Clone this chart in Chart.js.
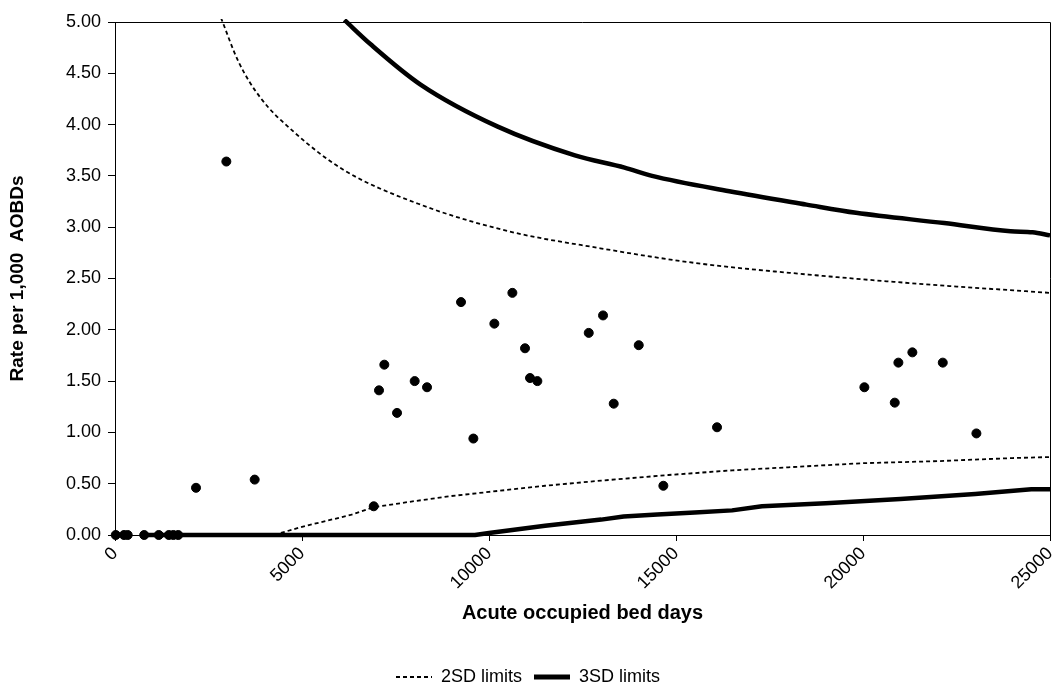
<!DOCTYPE html>
<html lang="en">
<head>
  <meta charset="UTF-8">
  <title>Funnel plot - rate per 1,000 AOBDs</title>
  <script src="https://cdn.jsdelivr.net/npm/chart.js"></script>
  <style>
    body { margin: 0; background: #fff; }
    canvas { display: block; }
  </style>
</head>
<body>
  <canvas id="funnel" width="1061" height="688"></canvas>

  <script>
    // hospitals: acute occupied bed days vs rate per 1,000 AOBDs
    const bedDays = [20, 240, 340, 780, 1170, 1440, 1560, 1690, 2166, 2977, 3735, 6918, 7059, 7201, 7541, 8013, 8343,
      9252, 9582, 10143, 10625, 10963, 11097, 11293, 12667, 13049, 13335, 14004, 14662, 16097, 20037, 20849, 20946,
      21320, 22133, 23032];
    const rates = [0, 0, 0, 0, 0, 0, 0, 0, 0.46, 3.64, 0.54, 0.28, 1.41, 1.66, 1.19, 1.50, 1.44,
      2.27, 0.94, 2.06, 2.36, 1.82, 1.53, 1.50, 1.97, 2.14, 1.28, 1.85, 0.48, 1.05, 1.44, 1.29, 1.68,
      1.78, 1.68, 0.99];

    // control limits
    const sd2UpperX = [2834, 3305, 3893, 4778, 6105, 8169, 10528, 12886, 15539, 18488, 21436, 25000];
    const sd2UpperY = [5.04, 4.61, 4.26, 3.93, 3.56, 3.22, 2.96, 2.80, 2.65, 2.54, 2.45, 2.36];
    const sd2LowerX = [700, 4250, 5000, 6300, 6900, 8000, 9000, 10000, 11500, 13000, 14800, 16500, 18000, 20000, 22000, 24000, 25000];
    const sd2LowerY = [0, 0, 0.08, 0.195, 0.27, 0.33, 0.38, 0.42, 0.48, 0.53, 0.585, 0.63, 0.66, 0.70, 0.72, 0.75, 0.76];
    const sd3UpperX = [6134, 6843, 8169, 10234, 12298, 13625, 14360, 16425, 18488, 19815, 22172, 23944, 24532, 25000];
    const sd3UpperY = [5.02, 4.78, 4.39, 3.98, 3.70, 3.58, 3.50, 3.35, 3.22, 3.14, 3.04, 2.96, 2.95, 2.92];
    const sd3LowerX = [700, 9625, 10000, 11500, 13000, 13600, 14500, 15500, 16500, 17300, 19000, 21000, 23000, 24500, 25000];
    const sd3LowerY = [0, 0, 0.02, 0.09, 0.15, 0.18, 0.20, 0.22, 0.24, 0.28, 0.31, 0.35, 0.40, 0.445, 0.445];

    const xTicks = [0, 5000, 10000, 15000, 20000, 25000];

    const pts = (xs, ys) => xs.map((x, i) => ({ x: x, y: ys[i] }));
    const FONT = "'Liberation Sans', Arial, sans-serif";

    // little line samples for the legend (dashed / thick)
    function legendLine(width, dash) {
      const c = document.createElement('canvas');
      c.width = 36; c.height = 8;
      const g = c.getContext('2d');
      g.strokeStyle = '#000';
      g.lineWidth = width;
      g.setLineDash(dash);
      g.beginPath();
      g.moveTo(0, 4);
      g.lineTo(36, 4);
      g.stroke();
      return c;
    }

    // draws the top and right edges of the plot frame
    const frame = {
      id: 'frame',
      beforeDatasetsDraw(chart) {
        const a = chart.chartArea, ctx = chart.ctx;
        ctx.save();
        ctx.strokeStyle = '#000';
        ctx.lineWidth = 1;
        ctx.beginPath();
        ctx.moveTo(a.left, a.top + 0.5);
        ctx.lineTo(a.right + 0.5, a.top + 0.5);
        ctx.lineTo(a.right + 0.5, a.bottom);
        ctx.stroke();
        ctx.restore();
      }
    };

    const dashed = { borderColor: '#000', borderWidth: 1.8, borderDash: [4, 3], pointRadius: 0, showLine: true, clip: 3,
      pointStyle: legendLine(2, [4, 3]) };
    const thick = { borderColor: '#000', borderWidth: 4.5, pointRadius: 0, showLine: true, borderJoinStyle: 'round', clip: 3,
      pointStyle: legendLine(5, []) };

    new Chart(document.getElementById('funnel'), {
      type: 'scatter',
      data: {
        datasets: [
          { label: 'Hospitals', data: pts(bedDays, rates), backgroundColor: '#000', borderColor: '#000', pointRadius: 4.5, pointHoverRadius: 4.5, clip: false },
          Object.assign({ label: '2SD limits', data: pts(sd2UpperX, sd2UpperY), cubicInterpolationMode: 'monotone' }, dashed),
          Object.assign({ label: '2SD lower', data: pts(sd2LowerX, sd2LowerY) }, dashed),
          Object.assign({ label: '3SD limits', data: pts(sd3UpperX, sd3UpperY), cubicInterpolationMode: 'monotone' }, thick),
          Object.assign({ label: '3SD lower', data: pts(sd3LowerX, sd3LowerY) }, thick)
        ]
      },
      options: {
        responsive: false,
        animation: false,
        devicePixelRatio: 1,
        layout: { padding: { left: 6, right: 11, top: 22, bottom: -8 } },
        plugins: {
          tooltip: { enabled: false },
          legend: {
            position: 'bottom',
            labels: {
              filter: item => item.text === '2SD limits' || item.text === '3SD limits',
              usePointStyle: true,
              pointStyleWidth: 36,
              boxWidth: 36,
              boxHeight: 16,
              padding: 12,
              color: '#000',
              font: { family: FONT, size: 18 }
            }
          }
        },
        scales: {
          x: {
            type: 'linear',
            min: 0,
            max: 25000,
            afterBuildTicks: s => { s.ticks = xTicks.map(v => ({ value: v })); },
            afterFit: s => { s.height = 121; s.paddingLeft = 0; s.paddingRight = 0; },
            ticks: {
              minRotation: 45,
              maxRotation: 45,
              color: '#000',
              padding: 2,
              font: { family: FONT, size: 18 },
              callback: v => String(v)
            },
            grid: { drawOnChartArea: false, drawTicks: true, tickLength: 6, color: '#000' },
            border: { color: '#000', width: 1 },
            title: {
              display: true,
              text: 'Acute occupied bed days',
              color: '#000',
              font: { family: FONT, size: 20, weight: 'bold' },
              padding: { top: 4, bottom: 31 }
            }
          },
          y: {
            min: 0,
            max: 5,
            afterFit: s => { s.width = 109; },
            ticks: {
              stepSize: 0.5,
              color: '#000',
              padding: 7,
              font: { family: FONT, size: 18 },
              callback: v => Number(v).toFixed(2)
            },
            grid: { drawOnChartArea: false, drawTicks: true, tickLength: 7, color: '#000' },
            border: { color: '#000', width: 1 },
            title: {
              display: true,
              text: 'Rate per 1,000  AOBDs',
              color: '#000',
              font: { family: FONT, size: 19, weight: 'bold' },
              padding: 0
            }
          }
        }
      },
      plugins: [frame]
    });
  </script>
</body>
</html>
